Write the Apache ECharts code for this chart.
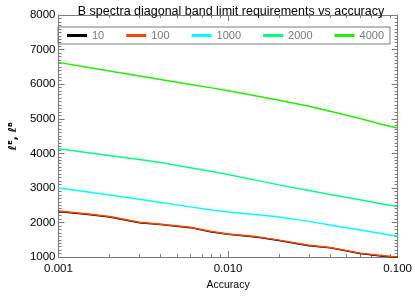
<!DOCTYPE html>
<html><head><meta charset="utf-8">
<script src="https://cdn.jsdelivr.net/npm/echarts@6/dist/echarts.min.js"></script>
<style>html,body{margin:0;padding:0;background:#fff}#c{width:415px;height:296px}</style>
</head><body><div id="c"></div>
<script>
var accuracy = [0.001, 0.0015, 0.002, 0.003, 0.004, 0.006, 0.008, 0.01, 0.015, 0.02, 0.03, 0.04, 0.06, 0.08, 0.1];
var s10   = [2320, 2232, 2160, 1992, 1940, 1852, 1728, 1658, 1572, 1478, 1330, 1268, 1102, 1035, 995];
var s100  = [2330, 2245, 2172, 2005, 1952, 1864, 1741, 1671, 1585, 1491, 1342, 1280, 1115, 1047, 1005];
var s1000 = [3000, 2881, 2796, 2670, 2580, 2452, 2360, 2303, 2221, 2162, 2033, 1931, 1784, 1681, 1600];
var s2000 = [4130, 4017, 3936, 3823, 3734, 3583, 3476, 3386, 3211, 3088, 2926, 2813, 2655, 2545, 2460];
var s4000 = [6630, 6485, 6382, 6237, 6135, 5990, 5893, 5810, 5650, 5535, 5360, 5220, 5010, 4840, 4730];
var seriesNames = ['10', '100', '1000', '2000', '4000'];
var seriesData = [s10, s100, s1000, s2000, s4000];
var colors = ['#000000', '#ff4500', '#00ffff', '#00ff7f', '#22ee00'];
var xTicks = {min: 0.001, max: 0.1};
var yTicks = {min: 1000, max: 8000, interval: 1000};

var FONT = 'Liberation Sans';
var axisGray = '#7a7a7a';
function pairs(arr){ return accuracy.map(function(a,i){ return [a, arr[i]]; }); }

var chart = echarts.init(document.getElementById('c'), null, {renderer:'canvas'});
var baseX = {
  type: 'log', logBase: 10, min: xTicks.min, max: xTicks.max,
  axisLine: {show: true, lineStyle: {color: axisGray, width: 1}},
  axisTick: {show: true, inside: true, length: 6, lineStyle: {color: axisGray}},
  minorTick: {show: true, splitNumber: 9, length: 3, lineStyle: {color: axisGray}},
  splitLine: {show: false}
};
var baseY = {
  type: 'value', min: yTicks.min, max: yTicks.max, interval: yTicks.interval,
  axisLine: {show: true, lineStyle: {color: axisGray, width: 1}},
  axisTick: {show: true, inside: true, length: 6, lineStyle: {color: axisGray}},
  minorTick: {show: true, splitNumber: 10, length: 3, lineStyle: {color: axisGray}},
  splitLine: {show: false}
};
var option = {
  backgroundColor: '#fff',
  animation: false,
  title: {
    text: 'B spectra diagonal band limit requirements vs accuracy',
    left: 226, top: 0, textAlign: 'center',
    textStyle: {fontFamily: FONT, fontSize: 12.5, fontWeight: 'normal', color: '#000'}
  },
  legend: {
    data: seriesNames,
    left: 58, top: 27,
    padding: [3, 6, 3, 9],
    itemGap: 22, itemWidth: 20, itemHeight: 3,
    icon: 'rect',
    borderColor: axisGray, borderWidth: 1,
    textStyle: {fontFamily: FONT, fontSize: 11, color: '#777'}
  },
  grid: {left: 51.5, right: 15, top: 15, bottom: 33, containLabel: false},
  xAxis: [
    Object.assign({}, baseX, {
      position: 'bottom',
      name: 'Accuracy', nameLocation: 'middle', nameGap: 19,
      nameTextStyle: {fontFamily: FONT, fontSize: 10.5, color: '#000'},
      axisLabel: {show: true, fontFamily: FONT, fontSize: 11.5, color: '#000', margin: 6,
        formatter: function(v){ return Number(v).toFixed(3); }}
    }),
    Object.assign({}, baseX, {position: 'top', axisLabel: {show: false}})
  ],
  yAxis: [
    Object.assign({}, baseY, {
      position: 'left',
      name: 'ℓᴱ, ℓᴮ', nameLocation: 'middle', nameGap: 38, nameRotate: 90,
      nameTextStyle: {fontFamily: 'DejaVu Sans', fontSize: 11, fontWeight: 'bold', color: '#000'},
      axisLabel: {show: true, fontFamily: FONT, fontSize: 11.5, color: '#000', margin: 3,
        formatter: function(v){ return String(v); }}
    }),
    Object.assign({}, baseY, {position: 'right', axisLabel: {show: false}})
  ],
  series: seriesNames.map(function(n, i){
    return {
      name: n, type: 'line', xAxisIndex: 0, yAxisIndex: 0,
      data: pairs(seriesData[i]), showSymbol: false, symbol: 'none',
      lineStyle: {color: colors[i], width: 1.5}, itemStyle: {color: colors[i]},
      z: 2 + i
    };
  })
};
chart.setOption(option);
</script></body></html>
